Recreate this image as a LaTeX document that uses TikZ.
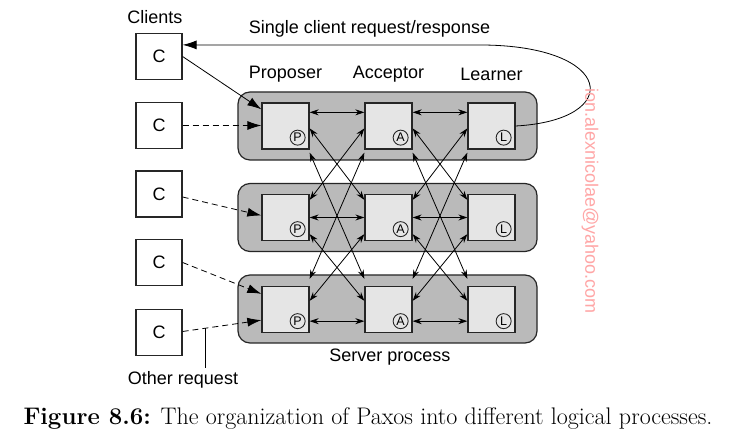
\documentclass[tikz,border=0pt]{standalone}
\usepackage{fontspec}
\newfontfamily\diafont{Liberation Sans}
\usetikzlibrary{arrows.meta, calc}

\begin{document}
\begin{tikzpicture}[x=1pt, y=-1pt,
  every node/.style={font=\diafont\fontsize{18}{20}\selectfont},
  server/.style={draw=black!85, line width=1.2pt, fill=black!27, rounded corners=12pt,
    minimum width=299pt, minimum height=68pt, inner sep=0pt},
  role/.style={draw=black!85, line width=1.3pt, fill=black!10,
    minimum width=47pt, minimum height=46pt, inner sep=0pt},
  client/.style={draw=black!85, line width=1.2pt, fill=white,
    minimum width=46pt, minimum height=46pt, inner sep=0pt},
  tag/.style={draw=black!85, circle, line width=0.9pt, inner sep=0pt, minimum size=15pt,
    font=\diafont\fontsize{12.5}{12.5}\selectfont},
  link/.style={line width=0.8pt, {Stealth[length=9pt,width=6pt]}-{Stealth[length=9pt,width=6pt]}},
  request/.style={line width=0.8pt, -{Latex[length=14pt,width=9pt]}},
  otherreq/.style={request, dash pattern=on 6pt off 4pt}]
  \fill[white] (0,0) rectangle (729,443);
  \useasboundingbox (0,0) rectangle (729,443);

  % Server processes
  \node[server] (S1) at (387.5,126) {};
  \node[server] (S2) at (387.5,217.5) {};
  \node[server] (S3) at (387.5,309) {};

  % Proposer / Acceptor / Learner boxes
  \node[role] (P1) at (285.5,126) {};
  \node[role] (A1) at (388.5,126) {};
  \node[role] (L1) at (491.5,126) {};
  \node[role] (P2) at (285.5,217.5) {};
  \node[role] (A2) at (388.5,217.5) {};
  \node[role] (L2) at (491.5,217.5) {};
  \node[role] (P3) at (285.5,309.5) {};
  \node[role] (A3) at (388.5,309.5) {};
  \node[role] (L3) at (491.5,309.5) {};
  % Circled tags
  \node[tag] (tP1) at ($(P1.south east)+(-12,-12)$) {P};
  \node[tag] (tA1) at ($(A1.south east)+(-12,-12)$) {A};
  \node[tag] (tL1) at ($(L1.south east)+(-12,-12)$) {L};
  \node[tag] (tP2) at ($(P2.south east)+(-12,-12)$) {P};
  \node[tag] (tA2) at ($(A2.south east)+(-12,-12)$) {A};
  \node[tag] (tL2) at ($(L2.south east)+(-12,-12)$) {L};
  \node[tag] (tP3) at ($(P3.south east)+(-12,-12)$) {P};
  \node[tag] (tA3) at ($(A3.south east)+(-12,-12)$) {A};
  \node[tag] (tL3) at ($(L3.south east)+(-12,-12)$) {L};

  % Column labels
  \node (prop) at (285.5,74) {Proposer};
  \node (acc) at (388.5,74) {Acceptor};
  \node (learn) at (491.5,74) {Learner};

  % Clients
  \node (clients) at (155,17) {Clients};
  \node[client] (C1) at (159,56.5) {C};
  \node[client] (C2) at (159,125.5) {C};
  \node[client] (C3) at (159,194) {C};
  \node[client] (C4) at (159,262.5) {C};
  \node[client] (C5) at (159,332.5) {C};

  % Links within a process
  \draw[link] ($(P1.north east)+(0,10)$) -- ($(A1.north west)+(0,10)$);
  \draw[link] ($(A1.north east)+(0,10)$) -- ($(L1.north west)+(0,10)$);
  \draw[link] (P2.east) -- (A2.west);
  \draw[link] (A2.east) -- (L2.west);
  \draw[link] ($(P3.south east)+(0,-12)$) -- ($(A3.south west)+(0,-12)$);
  \draw[link] ($(A3.south east)+(0,-12)$) -- ($(L3.south west)+(0,-12)$);
  % Links across processes, proposers and acceptors
  \draw[link] ($(P1.north east)+(0,26)$) -- ($(A2.north west)+(0,6)$);
  \draw[link] ($(A1.north west)+(0,26)$) -- ($(P2.north east)+(0,6)$);
  \draw[link] ($(P1.south east)+(0,3)$) -- ($(A3.north west)+(0,-7)$);
  \draw[link] ($(A1.south west)+(0,3)$) -- ($(P3.north east)+(0,-7)$);
  \draw[link] ($(P2.south east)+(0,-7)$) -- ($(A3.north west)+(0,15)$);
  \draw[link] ($(A2.south west)+(0,-7)$) -- ($(P3.north east)+(0,15)$);
  % Links across processes, acceptors and learners
  \draw[link] ($(A1.north east)+(0,26)$) -- ($(L2.north west)+(0,6)$);
  \draw[link] ($(L1.north west)+(0,26)$) -- ($(A2.north east)+(0,6)$);
  \draw[link] ($(A1.south east)+(0,3)$) -- ($(L3.north west)+(0,-7)$);
  \draw[link] ($(L1.south west)+(0,3)$) -- ($(A3.north east)+(0,-7)$);
  \draw[link] ($(A2.south east)+(0,-7)$) -- ($(L3.north west)+(0,15)$);
  \draw[link] ($(L2.south west)+(0,-7)$) -- ($(A3.north east)+(0,15)$);

  % Client requests
  \draw[request] (C1.east) -- ($(P1.north west)+(0,7)$);
  \draw[otherreq] (C2.east) -- (P2.west |- C2.east);
  \draw[otherreq] ($(C3.east)+(0,3)$) -- ($(P2.west)+(0,-2)$);
  \draw[otherreq] (C4.east) -- ($(P3.north west)+(0,8)$);
  \draw[otherreq] ($(C5.east)+(0,-1)$) -- coordinate[pos=0.29] (oth) ($(P3.south west)+(0,-13)$);

  % Response back to the client
  \coordinate (turn) at (480,45);
  \draw[request] (L1.east) .. controls (625,120) and (615,45) .. (turn) -- ($(C1.north east)+(0,12)$);
  \node (single) at (369.5,29) {Single client request/response};

  % Bottom labels
  \node (req) at (183,380) {Other request};
  \draw[line width=0.8pt] (oth) -- (oth |- req.north);
  \node (srv) at (390,357) {Server process};

  % Watermark
  \node[rotate=-90, text=red!35] (mail) at (590,201) {ion.alexnicolae@yahoo.com};

  % Caption
  \node[font=\rmfamily\fontsize{24}{28}\selectfont] (cap) at (368,419)
    {\textbf{Figure 8.6:} The organization of Paxos into different logical processes.};
\end{tikzpicture}
\end{document}
